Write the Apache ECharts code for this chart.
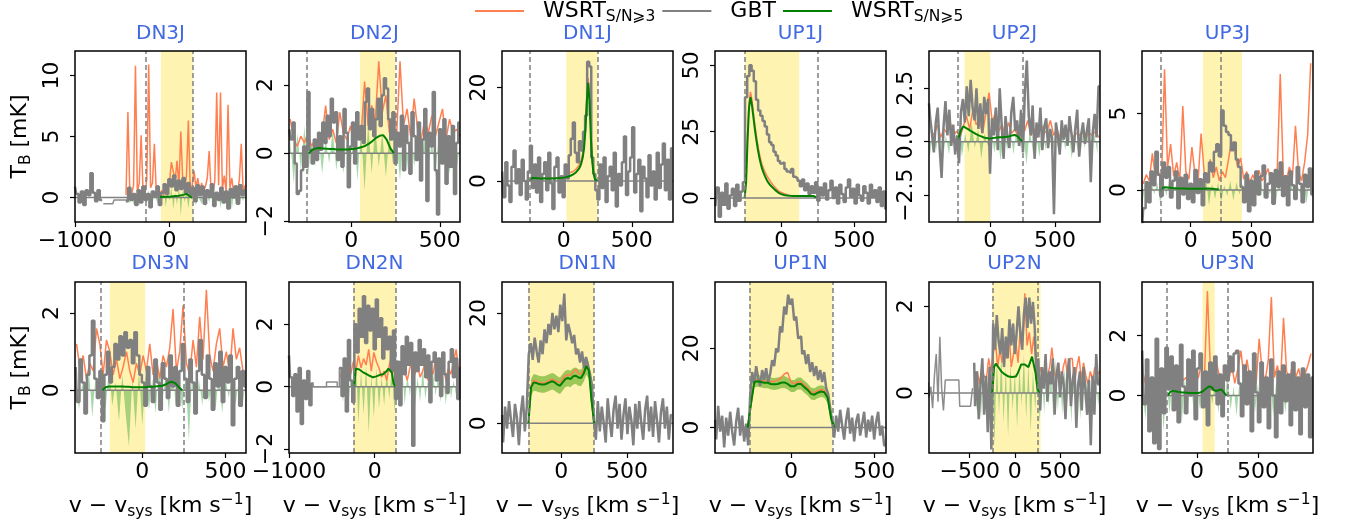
<!DOCTYPE html>
<html><head><meta charset="utf-8">
<script src="https://cdn.jsdelivr.net/npm/echarts@6/dist/echarts.min.js"></script>
<style>html,body{margin:0;padding:0;background:#fff}#c{width:1352px;height:531px}</style>
</head><body><div id="c"></div>
<script>
// ---------- panel descriptors ----------
const panelNames = ['DN3J','DN2J','DN1J','UP1J','UP2J','UP3J','DN3N','DN2N','DN1N','UP1N','UP2N','UP3N'];
const xMin = [-1000,-352,-452,-453,-475,-400,-404,-1000,-451,-456,-950,-452];
const xMax = [810,614,802,718,849,1004,623,995,849,570,942,952];
const yMin = [-2,-2.02,-8.8,-9,-3.76,-2.1,-1.62,-2.13,-5.4,-6.4,-1.38,-1.93];
const yMax = [12,3.0,27.8,55.4,4.25,9.1,2.8,3.36,25.6,36.7,2.56,3.8];
const xTicks = [[-1000,0],[0,500],[0,500],[0,500],[0,500],[0,500],[0,500],[-1000,0],[0,500],[0,500],[-500,0,500],[0,500]];
const yTicks = [[0,5,10],[-2,0,2],[0,20],[0,25,50],[-2.5,0,2.5],[0,5],[0,2],[-2,0,2],[0,20],[0,20],[0,2],[0,2]];
const yDecimals = [0,0,0,0,1,0,0,0,0,0,0,0];
const dashedV = [[-250,250],[-250,250],[-250,250],[-250,250],[-250,250],[-250,250],[-250,250],[-250,250],[-250,250],[-250,250],[-250,250],[-250,250]];
const bandV = [[-90,250],[49,250],[20,250],[-250,124],[-200,0],[100,421],[-195,18],[-250,250],[-250,250],[-250,250],[-250,285],[45,145]];

// ---------- GBT spectra (thick step line) ----------
const gbtStart = [-1000,-350,-450,-450,-475,-400,-400,-1000,-450,-455,-450,-450];
const gbtStep  = [25,12,15,15,15,20,15,25,15,12,20,20];
const gbtDN3J = [0.9,0.3,-0.4,0.5,-0.6,0.6,0.2,2.0,0.4,-0.3,0.6,-0.2,null,null,null,null,null,null,null,null,null,null,-0.3,0.8,-0.2,0.3,-0.6,0.6,-0.4,0.9,-0.2,0.3,-0.8,0.5,0.1,0.9,-0.6,0.4,1.1,0.3,1.5,0.9,1.8,0.6,1.4,0.7,1.6,0.4,1.2,0.2,0.8,-0.3,1.0,0.2,0.9,-0.5,0.6,0.1,1.1,-0.7,0.4,-0.2,0.8,-0.4,0.5,-0.9,0.7,0.0,0.9,-0.5,1.0,0.2,0.6];
const gbtDN2J = [0.7,0.4,0.9,-0.3,-1.2,-1.1,-0.5,0.2,-0.4,1.8,0.1,-0.3,0.4,-0.2,0.6,0.1,0.9,0.3,1.1,0.5,1.6,0.9,1.2,-0.2,0.5,-0.4,1.3,0.6,-1.0,0.2,0.9,-0.3,1.2,0.4,0.8,0.3,1.5,1.9,0.7,1.3,0.5,1.0,1.6,0.8,1.7,2.2,1.9,1.0,0.4,1.2,-0.3,0.6,0.2,1.1,-0.5,0.8,0.3,-0.6,1.2,0.5,-0.2,0.9,-0.8,0.4,1.3,-1.4,0.6,0.2,1.8,-0.5,-1.8,0.7,-0.3,1.0,-0.9,0.5,-0.4,0.8,-1.2,0.3,0.9];
const gbtDN1J = [2.0,-3.5,4.0,-1.0,-4.5,3.0,6.5,-0.5,2.5,-3.0,4.5,0.0,-4.0,2.0,7.5,-1.5,3.5,-2.5,5.0,-4.5,1.5,4.0,-2.0,6.0,-0.5,-6.0,3.0,5.0,-2.5,1.0,-3.5,3.5,0.5,5.5,9.0,12.5,6.0,4.0,8.5,6.5,10.5,14.0,25.5,24.5,5.0,1.5,-2.0,-4.0,3.5,-1.5,5.0,-4.5,1.0,3.0,-2.0,6.0,-5.5,1.5,-1.0,4.0,9.5,-3.0,2.0,5.0,11.5,-2.5,1.5,4.5,-6.5,3.0,0.5,-3.5,5.5,-1.0,2.0,-4.0,6.0,-1.5,3.5,8.0,-2.0,4.5,-4.0,7.0];
const gbtUP1J = [-3.0,4.0,-7.0,2.0,-2.5,5.5,-4.0,1.0,3.5,-3.0,5.0,-1.0,2.5,6.0,38.0,46.0,50.0,48.0,44.0,37.0,33.0,31.0,29.0,27.0,24.0,21.0,20.0,17.5,16.0,14.0,13.0,13.5,11.0,10.0,9.5,11.0,8.0,7.5,6.5,4.5,7.0,3.0,5.5,1.5,4.5,2.0,6.0,-1.0,4.0,1.0,5.5,-0.5,3.0,6.5,0.0,4.0,-2.0,5.0,1.5,-1.5,4.0,7.0,0.5,3.5,-2.0,5.0,1.0,-1.0,4.5,2.0,-2.0,5.0,0.5,3.0,-1.5,4.0,-3.0,2.5,-4.0];
const gbtUP2J = [1.8,1.2,0.4,-0.5,0.9,1.6,-0.3,-1.7,0.7,1.9,0.3,1.5,-0.2,0.8,-0.6,0.3,-1.0,1.4,2.0,0.9,2.6,1.2,2.9,1.6,1.0,2.5,0.6,1.8,0.4,2.1,1.3,2.0,-1.5,1.1,0.3,1.6,-0.4,2.5,0.8,-0.8,1.2,0.2,-0.3,1.4,2.1,0.5,1.0,-0.2,1.5,-0.5,2.4,3.8,1.2,0.3,1.7,-0.8,0.9,0.2,1.6,-0.4,0.7,1.1,-0.3,0.6,0.2,-3.4,0.9,0.3,-0.6,1.0,0.1,0.8,-0.2,1.2,0.4,-0.5,0.6,1.5,-0.7,0.3,0.9,-0.1,0.5,1.1,-1.9,0.4,1.3,0.2,2.6];
const gbtUP3J = [-2.6,-1.2,0.5,-0.8,1.2,0.3,2.5,1.0,-0.4,1.8,0.8,1.5,-0.5,0.6,1.2,-1.2,0.8,-0.3,1.0,-0.6,0.4,-0.8,1.3,-0.2,0.7,-1.0,1.1,0.5,1.8,1.2,2.5,3.0,2.2,5.2,4.2,3.8,3.6,2.6,3.1,2.0,1.5,0.2,-0.8,1.0,-1.4,0.6,-1.0,1.2,-0.3,0.9,1.6,-0.5,0.4,1.1,-0.9,1.3,0.2,1.8,-0.4,0.9,-1.0,1.2,0.3,-0.6,1.5,0.4,-0.8,1.0,0.2,1.4,-0.3];
const gbtDN3N = [0.6,-0.3,0.8,0.2,-0.6,0.4,0.9,1.8,0.3,-0.2,0.5,-0.8,0.4,1.0,0.2,0.6,1.2,0.8,1.4,0.9,1.5,1.1,1.3,0.7,1.5,0.9,0.4,0.2,-0.4,0.6,0.1,-0.3,0.8,0.2,-0.5,0.7,0.3,-0.2,0.9,0.1,0.6,-0.4,0.5,1.2,0.3,-0.3,0.8,0.2,-0.6,0.5,1.3,0.4,-0.2,0.9,0.3,-0.5,0.7,0.1,1.0,-0.3,0.6,0.2,0.9,-0.9,0.3,0.6,-0.4,0.5,0.1];
const gbtDN2N = [1.0,0.3,-0.3,0.4,-0.8,0.6,-1.2,0.2,-0.4,0.5,-0.6,0.1,null,null,null,null,null,null,null,null,null,null,null,null,0.6,-0.3,0.9,-0.8,1.5,0.2,-0.5,2.0,1.1,2.5,1.6,2.9,1.4,2.6,1.8,2.5,1.2,2.8,1.6,2.2,0.9,1.9,1.2,1.6,0.5,1.8,-0.4,0.8,-0.6,1.3,0.4,1.6,0.7,1.4,-1.9,1.1,0.5,1.5,0.7,1.2,0.3,1.0,-0.5,0.8,1.1,0.2,0.9,-0.3,1.1,0.4,-0.2,0.8,1.2,0.3,0.9,-0.4,0.6];
const gbtDN1N = [1.5,-3.5,3.0,-1.0,4.0,0.5,-2.5,3.5,1.0,-4.0,2.0,5.0,-1.5,3.0,12.5,14.5,11.5,15.5,13.0,11.0,15.0,12.5,17.0,14.5,18.0,16.0,20.0,17.0,19.5,16.5,21.5,18.5,23.5,15.0,18.0,16.5,14.5,16.0,12.5,13.5,11.0,13.0,10.0,12.0,10.5,9.0,7.0,0.5,-3.0,4.0,-1.5,3.0,0.0,-3.5,4.5,0.5,-2.5,2.5,5.0,-1.0,3.5,-3.0,1.5,4.5,-2.0,3.0,0.5,-4.0,3.5,-1.0,4.0,0.0,-3.0,2.5,5.0,-1.5,3.0,-2.5,4.0,0.5,-3.5,2.0,4.5,-1.0,3.0,-3.0,1.5];
const gbtUP1N = [2.0,-3.0,5.5,-1.0,3.0,-5.0,2.5,-2.0,4.0,-1.0,-4.5,1.5,5.0,-2.0,3.0,-3.5,1.0,-4.5,8.0,14.0,11.0,15.5,12.5,10.5,14.5,12.0,15.0,11.5,13.5,17.0,15.5,20.0,19.0,25.5,24.0,30.5,28.5,33.5,31.0,32.5,27.0,28.0,22.5,23.0,18.5,19.5,16.0,18.5,14.0,16.5,13.0,15.5,12.0,14.5,11.5,14.0,10.0,8.5,5.0,1.5,-2.5,3.0,-1.0,4.5,0.5,-3.0,2.0,5.0,-1.5,2.5,-3.5,1.5,3.5,-2.0,1.0,4.0,-2.5,2.0,-1.0,3.0,-3.0,1.5,4.0,-2.0,0.5,-4.5];
const gbtUP2N = [0.7,-0.3,0.5,-0.6,0.2,0.8,-0.5,0.4,-0.9,0.6,-1.3,1.6,1.0,1.8,1.2,0.9,1.5,0.6,1.3,0.8,1.7,1.1,1.6,0.9,1.4,2.0,1.4,1.0,1.8,2.2,1.5,2.2,1.6,2.1,1.5,0.3,0.8,-0.4,0.6,0.1,0.9,-0.2,0.5,0.2,0.8,-0.5,0.4,0.7,-0.1,0.5,0.2,-0.6,0.4,0.8,-0.3,0.3,0.6,-0.8,0.2,0.5,-0.4,0.6,0.1,-0.5,0.3,-1.2,0.4,-0.5,0.9,0.2];
const gbtUP3N = [1.5,-0.3,1.2,-1.2,0.6,-1.6,1.9,-1.8,0.9,-0.6,1.6,0.2,1.3,-0.5,1.0,-0.9,1.7,0.3,-0.6,1.2,0.0,1.5,-0.8,0.9,1.4,-0.4,0.8,-1.0,1.1,0.2,1.3,-0.3,0.7,-0.7,1.0,0.5,1.3,0.8,1.4,1.5,0.4,-0.7,1.0,-0.3,0.8,-1.2,1.4,0.1,-0.9,1.1,-0.4,0.6,-1.1,1.2,0.0,-1.4,0.8,-0.6,1.0,-0.2,0.7,-1.0,1.1,-0.5,0.6,-1.3,0.9,-0.4,0.7,-1.4,0.6];

// ---------- GBT low-resolution stretches (thin step line) ----------
const thinStart = [-700,null,null,null,null,null,null,-725,null,null,-960,null];
const thinStep  = [25,0,0,0,0,0,0,25,0,0,20,0];
const thinDN3J = [-0.5,-0.5,-0.5,-0.5,-0.5,-0.2,-0.2,-0.2,-0.2,-0.2,-0.2];
const thinDN2N = [0.1,0.0,0.0,0.0,0.0,0.0,0.0,0.15,0.15,0.15,0.15,0.15,0.0,0.6];
const thinUP2N = [0.25,-0.1,0.15,-0.35,0.4,0.9,-0.2,1.3,0.1,-0.4,0.3,0.3,0.3,0.3,0.3,0.3,0.3,0.3,-0.3,-0.3,-0.3,-0.3,-0.3,-0.3,-0.3,0.1];

// ---------- WSRT S/N>=3 spectra (orange) ----------
const w3Start = [-460,-345,-250,-250,-460,-390,-395,-400,-250,-260,-440,-440];
const w3Step  = [20,20,10,10,25,25,20,30,20,20,25,25];
const w3DN3J = [0.2,7.0,0.5,0.3,1.0,10.8,0.4,1.2,5.1,0.6,0.3,1.5,10.9,0.8,1.2,4.4,0.5,1.0,0.3,0.6,0.2,1.0,0.4,1.2,2.9,2.8,1.4,3.0,0.9,5.4,1.5,0.7,1.8,6.3,0.6,1.0,2.2,0.8,1.6,0.4,1.2,0.5,0.9,1.6,3.8,0.6,0.3,1.4,8.6,1.0,8.6,0.7,1.8,0.5,7.6,0.8,1.6,0.3,1.0,0.4,1.5,4.4,0.5,1.0];
const w3DN2J = [1.0,0.4,0.2,0.5,0.3,0.6,0.2,0.4,0.3,0.5,1.4,0.4,0.7,0.3,1.2,0.6,0.4,0.8,0.3,0.9,0.5,2.1,0.8,1.4,0.9,2.7,1.2,1.7,0.6,1.0,0.4,2.7,0.8,1.3,0.5,1.6,0.7,0.4,1.0,0.6,1.1,0.5,0.9,1.3,0.4,1.0,0.6,0.7,0.5];
const w3DN1J = [0.3,0.6,0.7,0.7,0.7,0.7,0.6,0.6,0.6,0.6,0.6,0.6,0.6,0.6,0.6,0.6,0.6,0.6,0.6,0.6,0.7,0.7,0.8,0.8,0.9,1.0,1.1,1.2,1.4,1.6,1.8,1.9,2.0,2.2,2.5,2.8,3.2,3.6,4.5,5.8,8.0,12.0,18.0,22.0,18.5,10.0,4.5,1.8,0.4,0.1,0.0];
const w3UP1J = [0,7,24,36,40,37,32,27.5,23.5,20,17,14.5,12.5,11,9.8,8.7,7.7,6.8,6.0,5.3,4.6,3.9,3.3,2.8,2.4,2.1,1.9,1.7,1.5,1.3,1.1,1.0,0.95,0.9,0.9,0.9,0.9,0.9,0.9,0.9,0.9,0.9,0.9,0.9,0.9,0.9,0.9,0.9,0.7,0.4];
const w3UP2J = [0.5,0.3,0.8,0.2,0.6,0.4,0.9,0.3,0.5,0.2,0.7,1.2,0.6,1.5,0.8,1.0,0.4,1.3,2.3,0.9,1.4,0.5,0.8,0.3,0.9,0.4,0.6,0.2,0.7,0.5,1.0,0.3,0.6,0.2,0.9,0.4,0.5,1.0,0.3,0.6,0.2,0.5,0.3,0.6,0.2,0.4,0.3,0.5,0.2,0.4,0.3,0.5,0.2];
const w3UP3J = [0.4,1.0,0.6,2.4,0.8,1.2,0.5,7.9,1.5,3.0,0.9,1.8,0.6,5.5,1.2,0.7,2.8,1.0,0.5,3.7,1.2,0.6,2.0,0.8,1.5,0.6,1.2,0.8,2.0,3.2,2.6,1.5,2.1,0.7,1.2,0.5,1.0,0.4,1.3,0.6,0.9,1.4,0.5,0.8,1.2,7.6,1.0,0.6,1.5,0.8,4.2,1.2,0.6,1.8,3.6,8.3];
const w3DN3N = [1.2,0.6,0.9,0.3,0.7,0.5,1.6,1.2,0.4,1.3,1.0,0.4,0.8,0.3,0.6,1.0,0.5,0.2,0.7,0.4,0.9,0.5,1.2,0.4,0.8,0.3,0.9,0.6,1.1,2.1,0.5,1.0,2.2,0.7,0.4,1.3,0.6,1.9,0.8,2.6,0.9,0.5,1.2,1.6,0.6,1.0,0.4,1.6,0.8,1.1,0.5];
const w3DN2N = [0.3,0.6,0.2,0.5,0.4,0.8,0.5,1.0,0.6,0.9,0.7,1.2,0.5,1.1,0.8,0.6,0.3,0.5,0.2,0.7,1.0,0.4,0.6,0.3,0.8,0.5,0.2,0.6,0.9,0.4,0.7,0.3,0.5,0.8,0.2,0.6,0.4,0.9,0.3,0.5,0.7,0.2,0.6,0.4,0.8,1.2,0.5];
const w3DN1N = [0,6.8,7.8,7.6,7.4,7.3,7.3,7.5,7.8,8.0,7.8,7.5,7.4,8.0,8.6,8.8,8.7,9.3,9.8,9.0,8.9,9.6,10.8,9.8,4.2,0];
const w3UP1N = [0,6.5,12.0,12.2,12.0,11.8,11.8,11.6,11.6,12.0,12.5,13.5,13.9,11.5,11.0,11.5,11.5,10.7,10.0,9.0,8.8,9.3,9.6,9.4,8.0,3.0,0];
const w3UP2N = [0.3,0.5,0.2,0.6,0.4,0.3,0.8,0.5,0.9,1.2,0.6,1.0,0.7,1.1,0.8,1.4,0.6,0.9,1.2,0.7,1.5,1.0,2.3,1.1,1.4,0.9,1.3,0.7,0.4,0.6,0.3,0.4,0.4,0.6,1.05,0.5,0.3,0.7,0.2,0.6,0.8,0.3,0.8,0.8,0.2,0.6,0.85,0.3,0.7,0.4,0.2,0.5,0.3,0.6,0.4,0.5];
const w3UP3N = [0.4,0.8,0.3,0.6,0.2,0.9,0.5,0.3,1.2,0.4,0.7,0.3,0.9,0.5,0.6,0.2,0.8,0.4,0.6,1.0,0.5,3.5,0.8,0.4,1.1,0.6,0.3,0.8,0.5,1.0,0.4,0.9,1.5,0.6,1.2,0.5,0.9,0.4,1.9,0.8,0.5,1.2,3.3,0.6,1.0,0.4,2.6,0.8,0.5,1.1,0.6,0.9,0.4,0.7,1.0,1.4];

// ---------- WSRT noise spectra (light green fill) ----------
const noiseStart = [-460,-345,null,null,-470,-400,-400,-400,null,null,-450,-450];
const noiseStep  = [20,20,0,0,25,25,20,30,0,0,25,25];
const noiseDN3J = [-0.3,0.4,-0.5,0.2,-0.6,0.3,-0.2,-0.7,0.5,-0.4,0.2,-0.5,0.6,-0.3,-0.6,0.4,-0.2,-0.5,0.3,-0.4,0.7,-0.8,0.5,-0.3,0.9,-1.0,0.4,-0.6,1.0,-1.5,0.6,-0.4,0.3,-0.9,0.5,-0.3,0.2,-0.7,0.4,-0.2,-0.5,0.3,-0.8,0.2,-0.4,0.5,-0.6,0.2,-0.3,0.4,-0.9,0.3,-0.5,0.2,-0.7,0.4,-1.0,0.3,-0.4,0.5,-0.6,0.2,-0.3,0.4];
const noiseDN2J = [0.4,-0.9,0.6,-0.5,0.8,-0.7,0.3,-0.4,0.5,-0.6,0.4,-0.3,0.7,-0.5,0.3,-0.6,0.5,-0.4,0.6,-0.8,0.7,-1.1,0.9,-0.6,0.8,-0.4,0.6,-0.7,0.5,-0.3,0.4,-0.8,0.6,-0.5,0.7,-0.4,0.5,-0.6,0.8,-0.5,0.4,-0.7,0.6,-0.3,0.5,-0.6,0.4,-0.5,0.3];
const noiseUP2J = [-0.8,0.5,-0.4,0.7,-1.0,0.3,-0.6,0.8,-0.3,0.5,-0.7,0.4,-0.5,0.9,-0.3,0.6,-0.8,0.4,-0.2,0.7,-0.5,0.3,-0.9,0.6,-0.4,0.5,-0.6,0.8,-0.3,0.4,-1.1,0.6,-0.5,0.3,-0.7,0.5,-0.4,0.8,-0.6,0.3,-0.5,0.7,-0.4,0.6,-0.8,0.3,-0.5,0.6,-0.3,0.5,-0.7,0.4,-0.6];
const noiseUP3J = [-1.2,0.4,-0.6,0.8,-0.3,0.5,-0.9,0.6,-0.4,0.7,-0.5,0.3,-0.8,0.6,-0.3,0.4,-0.7,0.5,-0.2,0.6,-0.5,0.8,-1.0,0.4,-0.6,0.5,-0.8,0.3,-0.4,0.6,-0.7,0.5,-0.3,0.4,-0.9,0.6,-0.5,0.3,-0.4,0.7,-0.6,0.4,-0.3,0.5,-0.8,0.6,-0.4,0.3,-0.5,0.7,-0.6,0.4,-0.3,0.5,-0.9,0.6];
const noiseDN3N = [0.3,-0.5,0.2,-0.3,0.5,-0.7,0.4,-0.2,0.3,-0.5,0.6,-0.4,0.2,-0.8,0.4,-0.6,-1.45,0.3,-1.0,0.5,-0.9,0.4,-0.5,0.3,-0.6,0.6,-0.3,0.4,-0.6,0.7,-0.4,0.3,-0.5,0.4,-1.3,0.5,-0.6,0.3,-0.4,0.5,-0.3,0.2,-0.5,0.4,-0.6,0.3,-0.2,0.5,-0.4,0.3,-0.5,0.2];
const noiseDN2N = [0.2,-0.5,0.3,-0.8,0.4,-0.6,0.9,-1.2,0.5,-0.9,0.7,-1.5,0.4,-1.0,0.6,-0.7,0.3,-0.6,0.5,-0.4,0.6,-0.8,0.3,-0.5,0.7,-0.6,0.4,-0.3,0.5,-0.7,0.3,-0.5,0.6,-0.4,0.2,-0.6,0.5,-0.3,0.4,-0.5,0.3,-0.6,0.5,-0.4,0.2,-0.3,0.4];
const noiseUP2N = [0.2,-0.4,0.3,-0.6,0.5,-0.3,0.4,-0.8,0.6,-1.2,0.8,-0.5,0.9,-0.7,0.6,-1.0,0.7,-0.4,0.5,-0.8,0.6,-0.3,0.9,-0.6,0.7,-0.9,0.5,-0.4,0.6,-0.7,0.4,-0.5,0.7,-0.3,0.5,-0.6,0.8,-0.4,0.3,-0.5,0.6,-0.3,0.4,-0.7,0.5,-0.4,0.3,-0.6,0.5,-0.2,0.4,-0.5,0.3,-0.4,0.2,-0.3,0.4];
const noiseUP3N = [0.5,-0.8,0.3,-1.0,0.6,-0.4,0.7,-1.2,0.4,-0.6,0.8,-0.5,0.3,-0.9,0.6,-0.4,0.5,-0.7,0.3,-0.5,0.6,-0.8,0.4,-0.3,0.7,-0.6,0.5,-0.4,0.8,-0.5,0.3,-0.7,0.6,-0.4,0.9,-0.3,0.5,-0.6,0.4,-0.5,0.3,-0.4,0.6,-0.7,0.5,-0.3,0.4,-0.6,0.5,-0.4,0.3,-0.5,0.4,-0.3,0.6,-0.4,0.3];

// ---------- WSRT S/N>=5 model profiles (green line) ----------
const modelStart = [-100,-240,-250,-250,-250,-250,-240,-240,-250,-260,-250,-240];
const modelStep  = [20,20,10,10,20,20,20,20,20,20,20,20];
const modelDN3J = [0.05,0.06,0.06,0.07,0.07,0.08,0.08,0.1,0.12,0.13,0.15,0.17,0.22,0.28,0.3,0.22,0.08,0.0];
const modelDN2J = [0.0,0.1,0.14,0.15,0.14,0.13,0.12,0.12,0.11,0.11,0.11,0.11,0.12,0.13,0.15,0.18,0.22,0.28,0.36,0.45,0.51,0.53,0.4,0.15,0.0];
const modelDN1J = [0.2,0.5,0.6,0.6,0.6,0.6,0.55,0.55,0.5,0.5,0.5,0.5,0.5,0.5,0.5,0.5,0.5,0.5,0.5,0.5,0.55,0.55,0.6,0.6,0.65,0.7,0.75,0.8,0.9,1.0,1.1,1.2,1.4,1.6,1.8,2.1,2.5,3.0,3.8,5.0,7.0,11.0,17.0,21.0,17.0,9.0,4.0,1.5,0.3,0.0,0.0];
const modelUP1J = [0,6,22,34,38,35,30.5,26,22,18.5,15.5,13,11,9.5,8.2,7.0,6.0,5.2,4.6,4.1,3.6,3.0,2.5,2.1,1.8,1.5,1.3,1.2,1.1,1.0,0.9,0.85,0.8,0.8,0.75,0.75,0.75,0.75,0.75,0.75,0.8,0.8,0.8,0.8,0.8,0.8,0.8,0.8,0.6,0.3];
const modelUP2J = [0.1,0.5,0.72,0.65,0.58,0.5,0.43,0.36,0.3,0.25,0.2,0.17,0.15,0.16,0.18,0.2,0.21,0.21,0.22,0.23,0.26,0.3,0.32,0.25,0.12,0.0];
const modelUP3J = [0.0,0.15,0.18,0.16,0.14,0.12,0.11,0.1,0.1,0.09,0.09,0.08,0.08,0.08,0.08,0.08,0.08,0.08,0.08,0.09,0.09,0.08,0.07,0.05,0.03];
const modelDN3N = [0.0,0.08,0.1,0.1,0.1,0.1,0.1,0.09,0.09,0.08,0.08,0.08,0.08,0.08,0.09,0.09,0.1,0.11,0.12,0.15,0.2,0.22,0.18,0.08,0.0];
const modelDN2N = [0.0,0.58,0.6,0.55,0.5,0.47,0.44,0.41,0.38,0.35,0.32,0.3,0.31,0.33,0.36,0.38,0.38,0.4,0.45,0.5,0.58,0.64,0.45,0.1,0.0];
const modelDN1N = [0,6.5,7.4,7.3,7.1,7.0,7.0,7.2,7.4,7.6,7.4,7.0,6.8,7.4,8.0,8.2,8.0,8.5,8.6,8.3,8.2,9.0,10.4,9.5,4.0,0];
const modelUP1N = [0,6,11.5,11.7,11.5,11.3,11.3,11.0,10.9,11.0,11.3,11.4,11.0,10.4,10.4,11.0,11.0,10.2,9.5,8.5,8.3,8.8,9.1,8.9,7.5,2.5,0];
const modelUP2N = [0.0,0.6,0.68,0.62,0.56,0.5,0.46,0.43,0.4,0.38,0.4,0.37,0.35,0.38,0.45,0.55,0.66,0.69,0.66,0.62,0.6,0.72,0.84,0.82,0.45,0.1,0.0];
const modelUP3N = [0.0,0.12,0.15,0.14,0.12,0.11,0.1,0.1,0.09,0.08,0.08,0.08,0.08,0.09,0.12,0.18,0.25,0.3,0.28,0.17,0.15,0.18,0.2,0.1,0.0];

// ---------- model uncertainty bands (DN1N, UP1N) on the model grid ----------
const bandHiDN1N = [0,8.0,8.9,8.8,8.6,8.5,8.5,8.7,8.9,9.1,8.9,8.5,8.3,8.9,9.5,9.7,9.5,10.0,10.1,9.8,9.7,10.5,12.0,11.0,5.5,0];
const bandLoDN1N = [0,5.0,5.9,5.8,5.6,5.5,5.5,5.7,5.9,6.1,5.9,5.5,5.3,5.9,6.5,6.7,6.5,7.0,7.1,6.8,6.7,7.5,8.8,8.0,2.5,0];
const bandHiUP1N = [0,7.5,13.1,13.3,13.1,12.9,12.9,12.6,12.5,12.6,12.9,13.0,12.6,12.0,12.0,12.6,12.6,11.8,11.1,10.1,9.9,10.4,10.7,10.5,9.1,4.0,0];
const bandLoUP1N = [0,4.5,10.1,10.3,10.1,9.9,9.9,9.6,9.5,9.6,9.9,10.0,9.6,9.0,9.0,9.6,9.6,8.8,8.1,7.1,6.9,7.4,7.7,7.5,6.1,1.0,0];

const gbtData   = [gbtDN3J,gbtDN2J,gbtDN1J,gbtUP1J,gbtUP2J,gbtUP3J,gbtDN3N,gbtDN2N,gbtDN1N,gbtUP1N,gbtUP2N,gbtUP3N];
const thinData  = [thinDN3J,null,null,null,null,null,null,thinDN2N,null,null,thinUP2N,null];
const w3Data    = [w3DN3J,w3DN2J,w3DN1J,w3UP1J,w3UP2J,w3UP3J,w3DN3N,w3DN2N,w3DN1N,w3UP1N,w3UP2N,w3UP3N];
const noiseData = [noiseDN3J,noiseDN2J,null,null,noiseUP2J,noiseUP3J,noiseDN3N,noiseDN2N,null,null,noiseUP2N,noiseUP3N];
const modelData = [modelDN3J,modelDN2J,modelDN1J,modelUP1J,modelUP2J,modelUP3J,modelDN3N,modelDN2N,modelDN1N,modelUP1N,modelUP2N,modelUP3N];
const bandHiData = [null,null,null,null,null,null,null,null,bandHiDN1N,bandHiUP1N,null,null];
const bandLoData = [null,null,null,null,null,null,null,null,bandLoDN1N,bandLoUP1N,null,null];

const legendNames = ['WSRT3','GBT','WSRT5'];

// ---------- styling / layout ----------
const C_ORANGE = '#FF7F50', C_GRAY = '#808080', C_GREEN = '#008000';
const gridLeft = [75, 289, 502, 715, 929, 1142];
const gridTop = [51, 282];
const gridW = 171, gridH = 171;
const FONT = 'DejaVu Sans';

function pts(vals, start, step) { return vals.map((y, i) => [start + i * step, y]); }
function fmt(v, d) { return (d ? v.toFixed(d) : String(v)).replace('-', '\u2212'); }

const option = {
  animation: false,
  backgroundColor: '#fff',
  textStyle: { fontFamily: FONT },
  title: [], grid: [], xAxis: [], yAxis: [], series: [],
  legend: {
    left: 475, top: 0, padding: 0, itemWidth: 49, itemHeight: 2, icon: 'rect', itemGap: 7,
    selectedMode: false,
    data: legendNames,
    formatter: n => n === 'GBT' ? '{m|GBT}' : (n === 'WSRT3' ? '{m|WSRT}{s|S/N\u2A7E3}' : '{m|WSRT}{s|S/N\u2A7E5}'),
    textStyle: { color: '#000', fontFamily: FONT, fontSize: 22,
      rich: { m: { fontSize: 22, fontFamily: FONT, lineHeight: 28, padding: [0, 0, 0, 14], color: '#000' },
              s: { fontSize: 15.5, fontFamily: FONT, lineHeight: 16, verticalAlign: 'bottom', color: '#000' } } }
  }
};

const nameRich = {
  a: { fontSize: 22, fontFamily: FONT, lineHeight: 28, color: '#000' },
  s: { fontSize: 15.5, fontFamily: FONT, lineHeight: 16, verticalAlign: 'bottom', color: '#000' },
  p: { fontSize: 15.5, fontFamily: FONT, lineHeight: 16, verticalAlign: 'top', color: '#000' }
};

for (let p = 0; p < 12; p++) {
  const col = p % 6, row = Math.floor(p / 6);
  option.title.push({ text: panelNames[p], left: gridLeft[col] + gridW / 2, top: row === 0 ? 24 : 254, padding: 0,
    textAlign: 'center', textStyle: { color: '#4169E1', fontSize: 20, fontWeight: 'normal', fontFamily: FONT } });
  option.grid.push({ left: gridLeft[col], top: gridTop[row], width: gridW, height: gridH, show: true, z: 10,
    borderColor: '#000', borderWidth: 1.5, backgroundColor: 'transparent' });
  option.xAxis.push({ type: 'value', gridIndex: p, min: xMin[p], max: xMax[p],
    axisLine: { show: false, onZero: false }, splitLine: { show: false },
    axisTick: { customValues: xTicks[p], length: 5, lineStyle: { color: '#000', width: 1.2 } },
    axisLabel: { customValues: xTicks[p], formatter: v => fmt(v, 0), fontSize: 22, color: '#000', margin: 8, fontFamily: FONT },
    name: row === 1 ? '{a|v \u2212 v}{s|sys}{a| [km s}{p|\u22121}{a|]}' : '',
    nameLocation: 'middle', nameGap: 39, nameTextStyle: { rich: nameRich } });
  option.yAxis.push({ type: 'value', gridIndex: p, min: yMin[p], max: yMax[p],
    axisLine: { show: false, onZero: false }, splitLine: { show: false },
    axisTick: { customValues: yTicks[p], length: 5, lineStyle: { color: '#000', width: 1.2 } },
    axisLabel: { customValues: yTicks[p], rotate: 90, formatter: v => fmt(v, yDecimals[p]), fontSize: 22, color: '#000', margin: 12, fontFamily: FONT },
    name: col === 0 ? '{a|T}{s|B}{a| [mK]}' : '',
    nameLocation: 'middle', nameGap: 41, nameRotate: 90, nameTextStyle: { rich: nameRich } });

  const base = { xAxisIndex: p, yAxisIndex: p, symbol: 'none', animation: false, silent: true };
  if (noiseData[p]) {
    option.series.push(Object.assign({}, base, { type: 'line', name: '_noise' + p,
      data: pts(noiseData[p], noiseStart[p], noiseStep[p]),
      lineStyle: { width: 0 }, areaStyle: { color: 'rgba(44,160,44,0.6)' } }));
  }
  if (bandHiData[p]) {
    const lo = bandLoData[p], hi = bandHiData[p], s0 = modelStart[p], ds = modelStep[p];
    option.series.push({ type: 'custom', name: '_band' + p, xAxisIndex: p, yAxisIndex: p, silent: true,
      data: [[s0, 0]],
      renderItem: (params, api) => {
        const poly = [];
        hi.forEach((h, i) => poly.push(api.coord([s0 + i * ds, h])));
        for (let i = lo.length - 1; i >= 0; i--) poly.push(api.coord([s0 + i * ds, lo[i]]));
        return { type: 'polygon', shape: { points: poly }, style: { fill: 'rgba(90,170,30,0.6)' } };
      } });
  }
  option.series.push(Object.assign({}, base, { type: 'line', name: 'WSRT3',
    data: pts(w3Data[p], w3Start[p], w3Step[p]),
    lineStyle: { color: C_ORANGE, width: 1.5 }, itemStyle: { color: C_ORANGE } }));
  option.series.push(Object.assign({}, base, { type: 'line', name: '_zero' + p,
    data: [[xMin[p], 0], [xMax[p], 0]], lineStyle: { color: C_GRAY, width: 1.5 } }));
  if (thinData[p]) {
    option.series.push(Object.assign({}, base, { type: 'line', name: '_thin' + p, step: 'middle',
      data: pts(thinData[p], thinStart[p], thinStep[p]), lineStyle: { color: '#8c8c8c', width: 1.5 } }));
  }
  option.series.push(Object.assign({}, base, { type: 'line', name: 'GBT', step: 'middle',
    data: pts(gbtData[p], gbtStart[p], gbtStep[p]),
    lineStyle: { color: C_GRAY, width: 2.5 }, itemStyle: { color: C_GRAY },
    markArea: { silent: true, itemStyle: { color: 'rgba(255,215,0,0.3)' },
      data: [[{ xAxis: bandV[p][0] }, { xAxis: bandV[p][1] }]] },
    markLine: { silent: true, symbol: 'none', label: { show: false },
      lineStyle: { color: C_GRAY, type: [5, 3], width: 1.5 },
      data: dashedV[p].map(v => ({ xAxis: v })) } }));
  option.series.push(Object.assign({}, base, { type: 'line', name: 'WSRT5',
    data: pts(modelData[p], modelStart[p], modelStep[p]),
    lineStyle: { color: C_GREEN, width: 2 }, itemStyle: { color: C_GREEN } }));
}

const chart = echarts.init(document.getElementById('c'), null, { renderer: 'canvas' });
chart.setOption(option);
</script>
</body></html>
